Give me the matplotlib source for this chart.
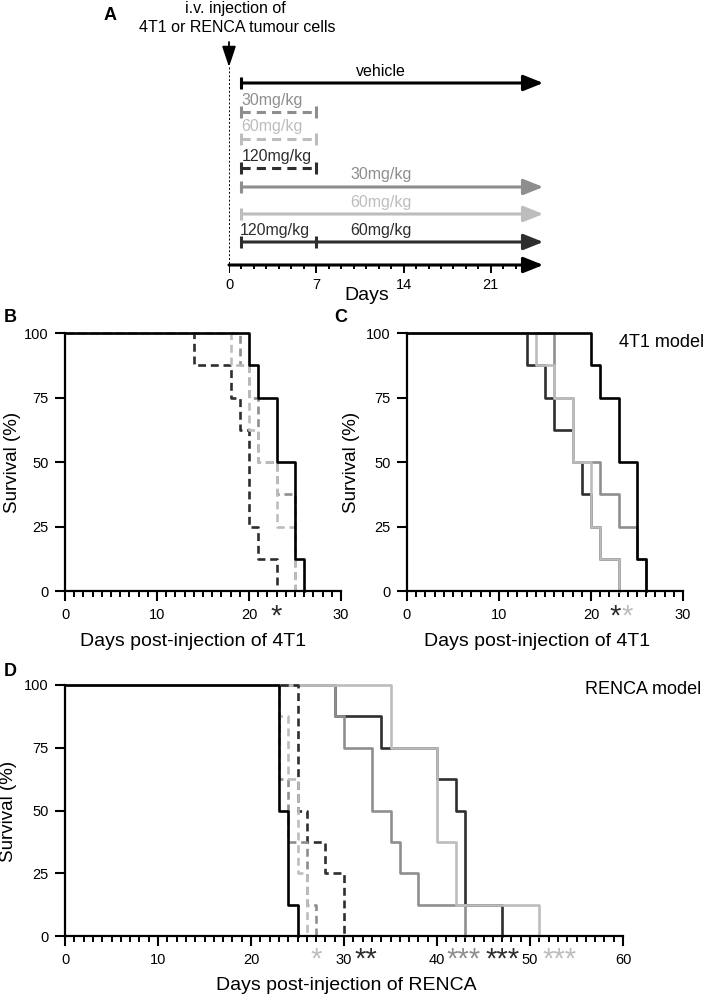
import matplotlib
matplotlib.use('Agg')
import matplotlib.pyplot as plt
from matplotlib.ticker import MultipleLocator

plt.rcParams['font.family'] = ['Liberation Sans', 'DejaVu Sans']

W, H = 708, 996
BLACK = '#000000'
DARK = '#2e2e2e'
GRAY = '#8e8e8e'
LIGHT = '#bdbdbd'

# ---- panel A: dosing schedule (days) ----
a_labels = ['vehicle', '30mg/kg', '60mg/kg', '120mg/kg', '30mg/kg', '60mg/kg', '120mg/kg']
a_colors = [BLACK, GRAY, LIGHT, DARK, GRAY, LIGHT, DARK]
a_start = [1, 1, 1, 1, 1, 1, 1]
a_stop = [None, 7, 7, 7, None, None, None]  # None = dosing continues
a_switch_day = 7
a_switch_label = '60mg/kg'
a_ticks = [0, 7, 14, 21]

# ---- panel B: 4T1, 1 week dosing ----
b_veh_t = [20, 21, 23, 25, 26]
b_veh_s = [87.5, 75, 50, 12.5, 0]
b_30_t = [19, 20, 21, 23, 25]
b_30_s = [87.5, 75, 50, 37.5, 0]
b_60_t = [18, 20, 21, 23, 25]
b_60_s = [87.5, 62.5, 50, 25, 0]
b_120_t = [14, 18, 19, 20, 21, 23]
b_120_s = [87.5, 75, 62.5, 25, 12.5, 0]

# ---- panel C: 4T1, continuous dosing ----
c_veh_t = [20, 21, 23, 25, 26]
c_veh_s = [87.5, 75, 50, 12.5, 0]
c_30_t = [16, 18, 21, 23, 25, 26]
c_30_s = [75, 50, 37.5, 25, 12.5, 0]
c_60_t = [14, 16, 18, 20, 21, 23]
c_60_s = [87.5, 75, 50, 25, 12.5, 0]
c_12060_t = [13, 15, 16, 18, 19, 20, 21, 23]
c_12060_s = [87.5, 75, 62.5, 50, 37.5, 25, 12.5, 0]

# ---- panel D: RENCA ----
d_veh_t = [23, 24, 25]
d_veh_s = [50, 12.5, 0]
d_30w_t = [23, 24, 26, 27]
d_30w_s = [62.5, 37.5, 12.5, 0]
d_60w_t = [23, 24, 25, 26]
d_60w_s = [87.5, 62.5, 25, 0]
d_120w_t = [25, 26, 28, 30]
d_120w_s = [50, 37.5, 25, 0]
d_30_t = [29, 30, 33, 35, 36, 38, 43]
d_30_s = [87.5, 75, 50, 37.5, 25, 12.5, 0]
d_60_t = [35, 40, 42, 51]
d_60_s = [75, 37.5, 12.5, 0]
d_12060_t = [29, 34, 40, 42, 43, 47]
d_12060_s = [87.5, 75, 62.5, 50, 12.5, 0]

b_stars = [(23, '*', DARK)]
c_stars = [(22.6, '*', DARK), (23.9, '*', LIGHT)]
d_stars = [(27, '*', LIGHT), (32.4, '**', DARK), (42.9, '***', GRAY),
           (47.0, '***', DARK), (53.2, '***', LIGHT)]


def box(left, top, right, bottom):
    return [left / W, 1 - bottom / H, (right - left) / W, (bottom - top) / H]


def ftext(x, y, s, **kw):
    fig.text(x / W, 1 - y / H, s, **kw)


fig = plt.figure(figsize=(W / 100, H / 100), dpi=100)

# ---------------- panel A ----------------
pxday = 12.47
ax = fig.add_axes(box(229, 0, 229 + 340, 310))
ax.set_xlim(0, 340 / pxday)
ax.set_ylim(310, 0)
ax.axis('off')

row_y = [83, 112, 139, 168, 187, 214, 242]
axis_y = 265
arrow_end = 25.2
label_mid = 12.2

for i, lab in enumerate(a_labels):
    y = row_y[i]
    c = a_colors[i]
    if a_stop[i] is None:
        ax.annotate('', xy=(arrow_end, y), xytext=(a_start[i], y),
                    arrowprops=dict(arrowstyle='-|>,head_length=0.8,head_width=0.32',
                                    mutation_scale=15, lw=2.2, color=c,
                                    shrinkA=0, shrinkB=0))
        ax.plot(a_start[i], y, marker='|', ms=9, mew=2.2, color=c)
        if i == len(a_labels) - 1:
            ax.plot(a_switch_day, y, marker='|', ms=9, mew=2.2, color=c)
            ax.text(a_start[i] - 0.1, y - 12, lab, color=c, fontsize=11.5,
                    ha='left', va='center')
            ax.text(label_mid, y - 12, a_switch_label, color=c, fontsize=11.5,
                    ha='center', va='center')
        else:
            ax.text(label_mid, y - 12, lab, color=c, fontsize=11.5,
                    ha='center', va='center')
    else:
        ax.plot([a_start[i], a_stop[i]], [y, y], color=c, lw=2.2,
                ls=(0, (3, 2)))
        ax.plot([a_start[i], a_stop[i]], [y, y], ls='none', marker='|',
                ms=9, mew=2.2, color=c)
        ax.text(a_start[i], y - 12, lab, color=c, fontsize=11.5,
                ha='left', va='center')

# time axis
ax.annotate('', xy=(arrow_end, axis_y), xytext=(0, axis_y),
            arrowprops=dict(arrowstyle='-|>,head_length=0.8,head_width=0.32',
                            mutation_scale=15, lw=2.2, color=BLACK,
                            shrinkA=0, shrinkB=0))
for d in range(0, 24):
    ln = 8 if d in a_ticks else 4
    ax.plot([d, d], [axis_y, axis_y + ln], color=BLACK, lw=1.4,
            solid_capstyle='butt')
for d in a_ticks:
    ax.text(d, 285, str(d), fontsize=10.5, ha='center', va='center')
ax.text((367 - 229) / pxday, 296, 'Days', fontsize=14, ha='center', va='center')

# injection arrow and dotted guide
ax.annotate('', xy=(0, 67), xytext=(0, 42),
            arrowprops=dict(arrowstyle='-|>,head_length=0.9,head_width=0.3',
                            mutation_scale=14, lw=1.3, color=BLACK,
                            shrinkA=0, shrinkB=0))
ax.plot([0, 0], [67, axis_y], color=BLACK, lw=0.7, ls=(0, (2, 2)))
ax.text((235 - 229) / pxday, 8, 'i.v. injection of', fontsize=11.5,
        ha='center', va='center')
ax.text((237 - 229) / pxday, 27, '4T1 or RENCA tumour cells', fontsize=11.5,
        ha='center', va='center')
ftext(110, 16, 'A', fontsize=13, fontweight='bold', ha='center', va='center')


# ---------------- survival panels ----------------
def km(ax, t, s, color, dashed=False):
    ax.step([0] + t, [100] + s, where='post', color=color, lw=1.9,
            ls=(0, (3, 1.8)) if dashed else '-', clip_on=False)


def style(ax, xmax):
    ax.set_xlim(0, xmax)
    ax.set_ylim(0, 100)
    ax.spines['top'].set_visible(False)
    ax.spines['right'].set_visible(False)
    for s in ['left', 'bottom']:
        ax.spines[s].set_linewidth(1.6)
    ax.set_xticks(range(0, xmax + 1, 10))
    ax.xaxis.set_minor_locator(MultipleLocator(1))
    ax.set_yticks([0, 25, 50, 75, 100])
    ax.tick_params(which='major', direction='out', length=7, width=1.5,
                   labelsize=10.5, pad=5)
    ax.tick_params(which='minor', direction='out', length=4, width=1.4)
    ax.patch.set_alpha(0)


def stars(ax, items, y):
    for x, s, c in items:
        ax.text(x, y, s, color=c, fontsize=21, ha='center', va='baseline',
                clip_on=False)


# B
axb = fig.add_axes(box(65, 333, 341, 591))
km(axb, b_120_t, b_120_s, DARK, True)
km(axb, b_30_t, b_30_s, GRAY, True)
km(axb, b_60_t, b_60_s, LIGHT, True)
km(axb, b_veh_t, b_veh_s, BLACK)
style(axb, 30)
stars(axb, b_stars, -13)
ftext(10, 317, 'B', fontsize=13, fontweight='bold', ha='center', va='center')
ftext(13, 462, 'Survival (%)', fontsize=13.5, rotation=90, ha='center', va='center')
ftext(193, 641, 'Days post-injection of 4T1', fontsize=14, ha='center', va='center')

# C
axc = fig.add_axes(box(407, 333, 683, 591))
km(axc, c_12060_t, c_12060_s, DARK)
km(axc, c_30_t, c_30_s, GRAY)
km(axc, c_60_t, c_60_s, LIGHT)
km(axc, c_veh_t, c_veh_s, BLACK)
style(axc, 30)
stars(axc, c_stars, -13)
ftext(341, 317, 'C', fontsize=13, fontweight='bold', ha='center', va='center')
ftext(352, 462, 'Survival (%)', fontsize=13.5, rotation=90, ha='center', va='center')
ftext(537, 641, 'Days post-injection of 4T1', fontsize=14, ha='center', va='center')
ftext(619, 342, '4T1 model', fontsize=13, ha='left', va='center')

# D
axd = fig.add_axes(box(65, 685, 623, 936))
km(axd, d_12060_t, d_12060_s, DARK)
km(axd, d_30_t, d_30_s, GRAY)
km(axd, d_60_t, d_60_s, LIGHT)
km(axd, d_120w_t, d_120w_s, DARK, True)
km(axd, d_30w_t, d_30w_s, GRAY, True)
km(axd, d_60w_t, d_60w_s, LIGHT, True)
km(axd, d_veh_t, d_veh_s, BLACK)
style(axd, 60)
stars(axd, d_stars, -12.5)
ftext(10, 671, 'D', fontsize=13, fontweight='bold', ha='center', va='center')
ftext(9, 811, 'Survival (%)', fontsize=13.5, rotation=90, ha='center', va='center')
ftext(346, 985, 'Days post-injection of RENCA', fontsize=14, ha='center', va='center')
ftext(585, 690, 'RENCA model', fontsize=13, ha='left', va='center')

fig.savefig('out.png', dpi=100)
